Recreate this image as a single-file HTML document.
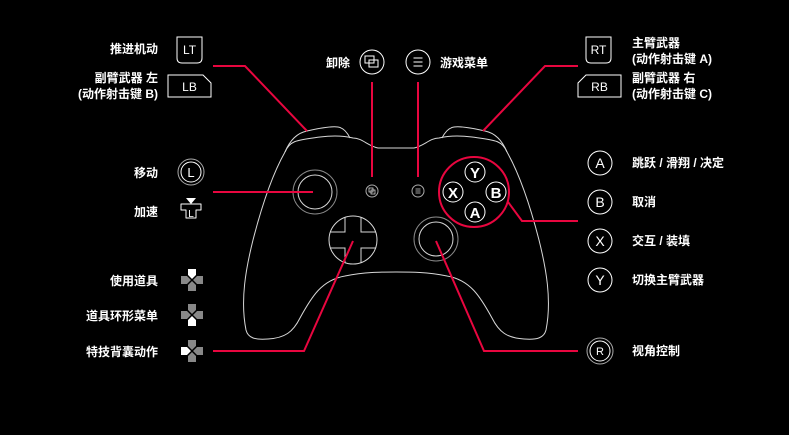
<!DOCTYPE html>
<html><head><meta charset="utf-8"><style>
html,body{margin:0;padding:0;background:#000;width:789px;height:435px;overflow:hidden}
svg text{font-family:"Liberation Sans","Noto Sans CJK SC",sans-serif;font-size:12px;font-weight:bold;fill:#fff}
</style></head><body>
<svg width="789" height="435" viewBox="0 0 789 435" xmlns="http://www.w3.org/2000/svg">
<defs>
<g id="dp">
<polygon points="-4,-11 4,-11 4,-4 0,0 -4,-4" id="armU"/>
</g>
</defs>
<g fill="none" stroke="#d8d8d8" stroke-width="1">
<path d="M285,152 C272,175 262,205 253,240 C246,268 240,300 246,330 C248,338 255,340 268,339 C285,338 293,332 300,318 C312,296 322,280 345,276 C365,272 380,272 396,272 C412,272 427,272 447,276 C470,280 480,296 492,318 C499,332 507,338 524,339 C537,340 544,338 546,330 C552,300 546,268 539,240 C530,205 520,175 507,152"/>
<path d="M285,152 C290,140 298,140 320,137 C335,135 345,136 353,138 C362,138 368,146 378,148 L414,148 C424,146 430,138 439,138 C447,136 457,135 472,137 C494,140 502,140 507,152"/>
<path d="M285,152 C290,140 297,133 307,131 C320,128 332,126 338,127 C344,128 348,134 350,138"/>
<path d="M507,152 C502,140 495,133 485,131 C472,128 460,126 454,127 C448,128 444,134 442,138"/>
<circle cx="315" cy="192" r="22" stroke="#888"/><circle cx="315" cy="192" r="17"/>
<circle cx="436" cy="239" r="22" stroke="#888"/><circle cx="436" cy="239" r="17"/>
<circle cx="353" cy="240" r="24"/>
<path d="M345,217 V232 H330 M361,217 V232 H376 M345,263 V248 H330 M361,263 V248 H376"/>
<circle cx="372" cy="191" r="6" stroke="#aaa"/><circle cx="418" cy="191" r="6" stroke="#aaa"/>
<rect x="369" y="188" width="4" height="4" stroke-width="0.8"/><rect x="371" y="190" width="4" height="4" stroke-width="0.8"/>
<path d="M415.5,189 H420.5 M415.5,191 H420.5 M415.5,193 H420.5" stroke-width="0.8"/>
<circle cx="475" cy="172" r="10" stroke="#fff"/><circle cx="453" cy="192" r="10" stroke="#fff"/>
<circle cx="496" cy="192" r="10" stroke="#fff"/><circle cx="475" cy="212" r="10" stroke="#fff"/>
</g>
<g>
<text x="475" y="178" text-anchor="middle" style="font-size:15px">Y</text>
<text x="453" y="198" text-anchor="middle" style="font-size:15px">X</text>
<text x="496" y="198" text-anchor="middle" style="font-size:15px">B</text>
<text x="475" y="218" text-anchor="middle" style="font-size:15px">A</text>
</g>
<g fill="none" stroke="#e8063f" stroke-width="2">
<circle cx="474" cy="192" r="35"/>
<polyline points="213,66 245,66 307,131"/>
<line x1="213" y1="192" x2="313" y2="192"/>
<line x1="372" y1="82" x2="372" y2="177"/>
<line x1="418" y1="82" x2="418" y2="177"/>
<polyline points="578,66 545,66 483,131"/>
<polyline points="508,202 522,221 578,221"/>
<polyline points="353,241 304,351 213,351"/>
<polyline points="436,241 484,351 578,351"/>
</g>
<g text-anchor="end">
<text x="158" y="53">推进机动</text>
<text x="158" y="82">副臂武器 左</text>
<text x="158" y="98">(动作射击键 B)</text>
<text x="158" y="177">移动</text>
<text x="158" y="216">加速</text>
<text x="158" y="285">使用道具</text>
<text x="158" y="320">道具环形菜单</text>
<text x="158" y="356">特技背囊动作</text>
<text x="350" y="67">卸除</text>
</g>
<g>
<text x="440" y="67">游戏菜单</text>
<text x="632" y="47">主臂武器</text>
<text x="632" y="63">(动作射击键 A)</text>
<text x="632" y="82">副臂武器 右</text>
<text x="632" y="98">(动作射击键 C)</text>
<text x="632" y="167">跳跃 / 滑翔 / 决定</text>
<text x="632" y="206">取消</text>
<text x="632" y="245">交互 / 装填</text>
<text x="632" y="284">切换主臂武器</text>
<text x="632" y="355">视角控制</text>
</g>
<g fill="none" stroke="#fff" stroke-width="1">
<path d="M177,37 H202 V58 Q202,63 197,63 H182 Q177,63 177,58 Z"/>
<path d="M168,75 H203 L211,83 V97 H168 Z"/>
<path d="M586,37 H611 V58 Q611,63 606,63 H591 Q586,63 586,58 Z"/>
<path d="M586,75 H621 V97 H578 V83 Z"/>
<circle cx="191" cy="172" r="13" stroke="#aaa"/><circle cx="191" cy="172" r="10"/>
<path d="M181,204 H201 V210 H196 V218 H186 V210 H181 Z" stroke-linejoin="round"/>
<circle cx="372" cy="62" r="12"/><circle cx="418" cy="62" r="12"/>
<rect x="365" y="56" width="9" height="7"/><rect x="369" y="60" width="9" height="7"/>
<path d="M413.5,58 H422.5 M413.5,62 H422.5 M413.5,66 H422.5"/>
<circle cx="600" cy="163" r="12"/><circle cx="600" cy="202" r="12"/>
<circle cx="600" cy="241" r="12"/><circle cx="600" cy="280" r="12"/>
<circle cx="600" cy="351" r="13" stroke="#aaa"/><circle cx="600" cy="351" r="10"/>
</g>
<polygon points="186,198 196,198 191,204" fill="#fff"/>
<g style="font-weight:normal">
<text x="189.5" y="54" text-anchor="middle" style="font-weight:normal">LT</text>
<text x="189.5" y="91" text-anchor="middle" style="font-weight:normal">LB</text>
<text x="598.5" y="54" text-anchor="middle" style="font-weight:normal">RT</text>
<text x="599.5" y="91" text-anchor="middle" style="font-weight:normal">RB</text>
<text x="191" y="177" text-anchor="middle" style="font-size:13px;font-weight:normal">L</text>
<text x="191" y="217" text-anchor="middle" style="font-size:10px;font-weight:normal">L</text>
<text x="600" y="168" text-anchor="middle" style="font-size:14px;font-weight:normal">A</text>
<text x="600" y="207" text-anchor="middle" style="font-size:14px;font-weight:normal">B</text>
<text x="600" y="246" text-anchor="middle" style="font-size:14px;font-weight:normal">X</text>
<text x="600" y="285" text-anchor="middle" style="font-size:14px;font-weight:normal">Y</text>
<text x="600" y="355" text-anchor="middle" style="font-size:11px;font-weight:normal">R</text>
</g>
<g transform="translate(192,280)">
<use href="#armU" fill="#fff"/><use href="#armU" fill="#888" transform="rotate(90)"/><use href="#armU" fill="#888" transform="rotate(180)"/><use href="#armU" fill="#888" transform="rotate(270)"/>
<path d="M-5,-5 L5,5 M5,-5 L-5,5" stroke="#000" stroke-width="1.5"/>
</g>
<g transform="translate(192,315)">
<use href="#armU" fill="#888"/><use href="#armU" fill="#888" transform="rotate(90)"/><use href="#armU" fill="#fff" transform="rotate(180)"/><use href="#armU" fill="#888" transform="rotate(270)"/>
<path d="M-5,-5 L5,5 M5,-5 L-5,5" stroke="#000" stroke-width="1.5"/>
</g>
<g transform="translate(192,351)">
<use href="#armU" fill="#888"/><use href="#armU" fill="#888" transform="rotate(90)"/><use href="#armU" fill="#888" transform="rotate(180)"/><use href="#armU" fill="#fff" transform="rotate(270)"/>
<path d="M-5,-5 L5,5 M5,-5 L-5,5" stroke="#000" stroke-width="1.5"/>
</g>
</svg>
</body></html>
